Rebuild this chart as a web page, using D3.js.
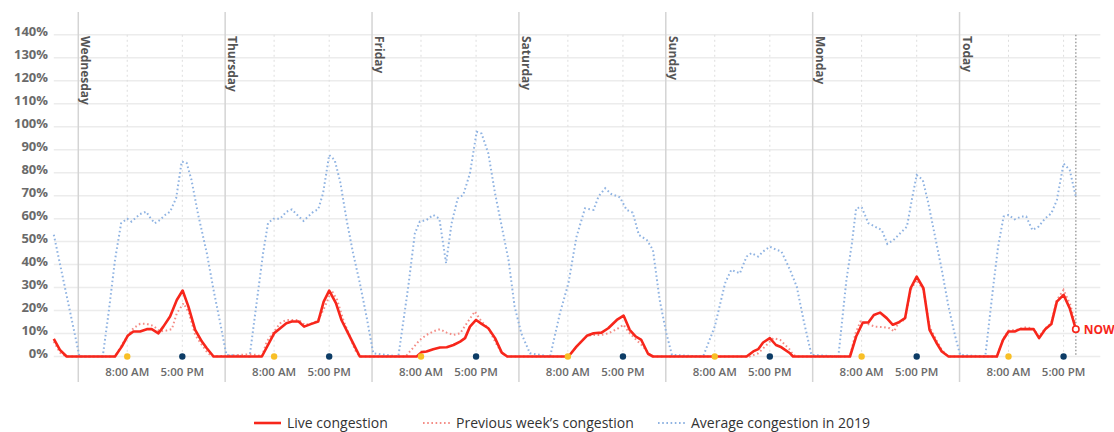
<!DOCTYPE html>
<html>
<head>
<meta charset="utf-8">
<script src="https://cdn.jsdelivr.net/npm/d3@7"></script>
<style>
  body { margin: 0; background: #fff; }
  svg { display: block; font-family: "Open Sans", sans-serif; }
</style>
</head>
<body>
<script>
const width = 1114;
const height = 432;

// hours counted from Wednesday 00:00
const dayNames = ["Wednesday", "Thursday", "Friday", "Saturday", "Sunday", "Monday", "Today"];
const yTicks = [0, 10, 20, 30, 40, 50, 60, 70, 80, 90, 100, 110, 120, 130, 140];
const markHours = [8, 17];
const markLabels = ["8:00 AM", "5:00 PM"];
const nowHour = 163;

const avg2019 = [[-4, 53], [0.2, 0], [4, 0], [5, 20], [6, 42], [7, 58], [8, 60], [8.7, 58.7], [10.1, 62], [11.1, 63],
  [11.7, 60.6], [12.5, 58], [13.35, 59.4], [14.2, 61.6], [15, 63], [16, 69], [16.9, 84.8], [17.7, 84.3], [18.5, 76.8],
  [19.6, 61.6], [21, 45], [22.1, 29], [23.2, 14.5], [24.2, 0.7], [28, 0], [30.2, 45], [31, 58], [31.9, 60], [33, 60],
  [34, 63], [34.9, 64], [36, 61], [36.8, 59], [37.6, 61], [38.4, 63], [39.2, 64], [40, 71], [41, 87.7], [41.9, 85.5],
  [42.8, 76], [43.85, 59.4], [44.9, 45], [46, 32], [47.1, 17.4], [48.2, 1.4], [52.3, 0], [53.9, 30], [55, 53.6],
  [55.8, 58.7], [56.9, 59.4], [58, 61.6], [59, 60], [60.1, 40.6], [61, 58], [62, 68.8], [62.9, 70.3], [64, 79.7],
  [65.1, 97.8], [65.9, 97], [67, 88.4], [68.1, 71], [69.2, 56.5], [70.3, 42], [71.3, 21.7], [72.4, 10], [73.8, 1.4],
  [77.1, 0], [78.7, 18.8], [80.1, 32], [81.4, 52], [82.8, 64.5], [84.2, 63.8], [85, 69.6], [86.1, 73.2], [87.1, 70.7],
  [88.5, 69.3], [89.6, 63.8], [90.6, 62.6], [91.6, 52.9], [92.9, 50.7], [93.9, 46.4], [95, 24.6], [96.1, 10], [97, 0.7],
  [102.1, 0], [104, 13], [105.7, 32], [106.7, 37.7], [108.1, 36.2], [109.2, 43.5], [110, 45], [111.1, 43.5],
  [111.9, 45.7], [113, 47.8], [114.1, 46.4], [114.9, 45.7], [116.3, 37.7], [117.4, 30.4], [118.5, 16], [119.8, 0.7],
  [124.2, 0], [125.5, 33], [126.4, 49], [127.1, 64.5], [128, 65], [129.1, 58], [130.2, 56.5], [131.3, 55], [132.2, 49],
  [133.2, 50.7], [134.3, 53.6], [135.4, 56.5], [136.3, 69.6], [137, 79], [138, 76.8], [138.9, 66.7], [140, 52.2],
  [141.1, 37.7], [142.2, 21.7], [143.3, 8.7], [144.1, 0.7], [148.2, 0], [149.5, 30.4], [150.3, 47.8], [151.2, 60.9],
  [152, 61.6], [153, 59.7], [154.1, 60.9], [154.9, 60.9], [155.9, 55], [156.9, 56.5], [158, 60.1], [159, 62.3],
  [159.9, 68.1], [161, 84], [162, 81.2], [163, 69.6]];

const prevWeek = [[-4, 6.5], [-3, 1.7], [-2, 0], [6, 0], [7.1, 5], [8, 8.7], [9, 12.3], [10.1, 14.2], [11.2, 14.2],
  [12.3, 13.3], [13.3, 10.9], [14.4, 11.3], [15.3, 11.9], [16.1, 18.8], [17.2, 23.2], [18.1, 18.8], [19.1, 9.4],
  [20.2, 5], [21.2, 1.4], [22, 0], [26.4, 0.7], [28, 1], [29.1, 0.7], [30, 0], [30.8, 6.5], [32, 10.9], [33, 14.5],
  [34, 15.9], [36, 15.9], [37, 13.8], [38.4, 14.5], [39.2, 15.9], [40.3, 21.7], [41.4, 28.7], [42.3, 24.6], [43.3, 15.9],
  [44.4, 8.7], [45.2, 2.9], [45.8, 0.7], [46.2, 0], [53.5, 0], [54.2, 2.2], [55.8, 7.2], [56.9, 9.4], [58, 10.9],
  [59.1, 11.9], [60.2, 10.4], [61.3, 9.4], [62.4, 10.1], [63.5, 14.5], [64.8, 19.6], [65.9, 15.2], [67, 12.3],
  [68.1, 6.5], [69.2, 1.4], [70.1, 0], [80.1, 0], [81.4, 4.3], [83.1, 9], [84.2, 9.4], [85.5, 9.4], [86.6, 10.1],
  [88, 11.9], [89.1, 13.8], [90.1, 10.1], [91.2, 7.2], [92.3, 4.3], [93.4, 0.7], [94, 0], [109.7, 0], [111.1, 1.4],
  [112.2, 4.3], [113.6, 8], [114.7, 7.2], [116.3, 2.9], [116.8, 0.7], [117.5, 0], [126.1, 0], [127, 10.1],
  [127.8, 15.2], [128.9, 14.2], [130.2, 13], [131.6, 12.8], [132.6, 12.3], [133.3, 10.9], [134, 14.5], [135.1, 16.2],
  [136, 29], [137, 33.3], [138.1, 29], [139.1, 13], [140.2, 7.2], [141.1, 2.9], [141.9, 0.7], [142.3, 0], [150.1, 0],
  [151.2, 8], [152, 11.3], [153.3, 11.6], [155, 12.8], [156.1, 11.9], [157, 8.7], [158, 12.3], [159, 14.5],
  [159.9, 24.6], [161, 29], [162.1, 22.5], [162.9, 14.5]];

const live = [[-4, 7.7], [-3, 2.9], [-1.9, 0], [6, 0], [7.1, 4.3], [8.07, 9], [9, 10.9], [10.1, 10.9], [11.2, 11.9],
  [12, 11.9], [13.1, 10.1], [13.9, 13], [15, 17.4], [16.1, 24.6], [17.05, 28.7], [18, 21.7], [19.1, 11.6], [20.2, 6.5],
  [21, 3.6], [22.1, 0], [30, 0], [32, 10.1], [33, 12.3], [34, 14.5], [34.9, 15.2], [36, 15.2], [36.9, 13], [38.1, 14.2],
  [39.2, 15.2], [40.1, 23.9], [41, 28.7], [42.1, 23.2], [43, 15.9], [44.1, 10.1], [44.9, 5.8], [46, 0], [55.3, 0],
  [56.1, 1.9], [56.9, 2.2], [58, 3.2], [59.1, 3.9], [60.2, 4], [61.3, 5], [62.4, 6.5], [63.2, 8], [64, 13], [65, 15.9],
  [65.9, 14.2], [67, 12.3], [68.1, 8], [69.2, 1.7], [70.1, 0], [80.1, 0], [81.4, 4.3], [83.1, 9], [84.2, 10.1],
  [85.5, 10.4], [86.6, 12.3], [88, 15.9], [89.1, 17.8], [90.1, 11.6], [91.1, 8.7], [92, 7.2], [93.1, 1.2], [93.9, 0],
  [109.2, 0], [110.3, 2.2], [111.1, 3.2], [111.9, 6.1], [113, 8], [114, 5], [114.9, 4], [116.3, 1.4], [116.8, 0],
  [126.1, 0], [127.1, 8.7], [128.2, 14.8], [129.1, 14.8], [130, 18.1], [131, 19.1], [132.1, 16.7], [133.1, 13.8],
  [134, 14.8], [135.1, 16.7], [136, 29.7], [137, 34.8], [138.1, 29.7], [139.1, 11.6], [140.2, 6.1], [141.1, 2.2],
  [142.2, 0], [150.1, 0], [151.1, 7.2], [152, 10.9], [153, 10.9], [153.9, 11.9], [155.1, 11.9], [156.1, 11.9], [157, 8],
  [158, 11.9], [159, 14.1], [159.9, 23.9], [161, 26.8], [162, 21], [163, 11.9]];

const legendItems = [
  { label: "Live congestion", color: "#f7261b", dash: null, width: 2.6, x: 254 },
  { label: "Previous week\u2019s congestion", color: "#f48d86", dash: "1.6,2.6", width: 2, x: 423 },
  { label: "Average congestion in 2019", color: "#8fb3e2", dash: "1.6,2.6", width: 2, x: 658 }
];

const svg = d3.select("body").append("svg")
  .attr("width", width)
  .attr("height", height);

const x = d3.scaleLinear().domain([-4, 167]).range([53.8, 1100.3]);
const y = d3.scaleLinear().domain([0, 140]).range([356.5, 34.8]);

// horizontal grid
svg.append("g").selectAll("line")
  .data(yTicks)
  .enter().append("line")
  .attr("x1", x(-4)).attr("x2", x(167))
  .attr("y1", d => y(d)).attr("y2", d => y(d))
  .attr("stroke", "#ececec")
  .attr("stroke-width", 1.5);

// y labels
svg.append("g").selectAll("text")
  .data(yTicks)
  .enter().append("text")
  .attr("x", 48)
  .attr("y", d => y(d) + 1)
  .attr("text-anchor", "end")
  .attr("font-size", 13)
  .attr("font-weight", 700)
  .attr("fill", "#6a6a6a")
  .text(d => d + "%");

// 8 AM / 5 PM dotted guides
const marks = [];
dayNames.forEach((d, i) => markHours.forEach((h, j) => marks.push({ h: i * 24 + h, j: j })));

svg.append("g").selectAll("line")
  .data(marks)
  .enter().append("line")
  .attr("x1", d => x(d.h)).attr("x2", d => x(d.h))
  .attr("y1", y(140)).attr("y2", y(0))
  .attr("stroke", "#dedede")
  .attr("stroke-width", 1)
  .attr("stroke-dasharray", "2,3");

// day separators
svg.append("g").selectAll("line")
  .data(dayNames)
  .enter().append("line")
  .attr("x1", (d, i) => x(i * 24)).attr("x2", (d, i) => x(i * 24))
  .attr("y1", 12).attr("y2", 382)
  .attr("stroke", "#d4d4d4")
  .attr("stroke-width", 1.5);

svg.append("g").selectAll("text")
  .data(dayNames)
  .enter().append("text")
  .attr("transform", (d, i) => "translate(" + (x(i * 24) + 3) + ",36) rotate(90)")
  .attr("font-size", 12)
  .attr("font-weight", 700)
  .attr("fill", "#555")
  .text(d => d);

// x labels
svg.append("g").selectAll("text")
  .data(marks)
  .enter().append("text")
  .attr("x", d => x(d.h))
  .attr("y", 376)
  .attr("text-anchor", "middle")
  .attr("font-size", 11.5)
  .attr("font-weight", 600)
  .attr("fill", "#6a6a6a")
  .text(d => markLabels[d.j]);

// now line
svg.append("line")
  .attr("x1", x(nowHour)).attr("x2", x(nowHour))
  .attr("y1", y(140)).attr("y2", y(0))
  .attr("stroke", "#a0a0a0")
  .attr("stroke-width", 1.5)
  .attr("stroke-dasharray", "1.5,2");

const line = d3.line()
  .x(d => x(d[0]))
  .y(d => y(d[1]));

svg.append("path")
  .datum(avg2019)
  .attr("d", line)
  .attr("fill", "none")
  .attr("stroke", "#8fb3e2")
  .attr("stroke-width", 2)
  .attr("stroke-dasharray", "1.6,2.6");

svg.append("path")
  .datum(prevWeek)
  .attr("d", line)
  .attr("fill", "none")
  .attr("stroke", "#f48d86")
  .attr("stroke-width", 2)
  .attr("stroke-dasharray", "1.6,2.6");

svg.append("path")
  .datum(live)
  .attr("d", line)
  .attr("fill", "none")
  .attr("stroke", "#f7261b")
  .attr("stroke-width", 2.6)
  .attr("stroke-linejoin", "round");

// marker dots
svg.append("g").selectAll("circle")
  .data(marks)
  .enter().append("circle")
  .attr("cx", d => x(d.h))
  .attr("cy", y(0))
  .attr("r", 3.2)
  .attr("fill", d => d.j === 0 ? "#f8bf26" : "#0c3c66");

// now marker
const nowVal = live[live.length - 1][1];
svg.append("circle")
  .attr("cx", x(nowHour))
  .attr("cy", y(nowVal))
  .attr("r", 3.2)
  .attr("fill", "#fff")
  .attr("stroke", "#f7261b")
  .attr("stroke-width", 1.6);

svg.append("text")
  .attr("x", x(nowHour) + 8)
  .attr("y", y(nowVal) + 4.5)
  .attr("font-size", 12)
  .attr("font-weight", 700)
  .attr("fill", "#f7261b")
  .text("NOW");

// legend
const legend = svg.append("g").selectAll("g")
  .data(legendItems)
  .enter().append("g")
  .attr("transform", d => "translate(" + d.x + ",423)");

legend.append("line")
  .attr("x1", 0).attr("x2", 27)
  .attr("stroke", d => d.color)
  .attr("stroke-width", d => d.width)
  .attr("stroke-dasharray", d => d.dash);

legend.append("text")
  .attr("x", 33)
  .attr("y", 5)
  .attr("font-size", 14)
  .attr("fill", "#333")
  .text(d => d.label);
</script>
</body>
</html>
